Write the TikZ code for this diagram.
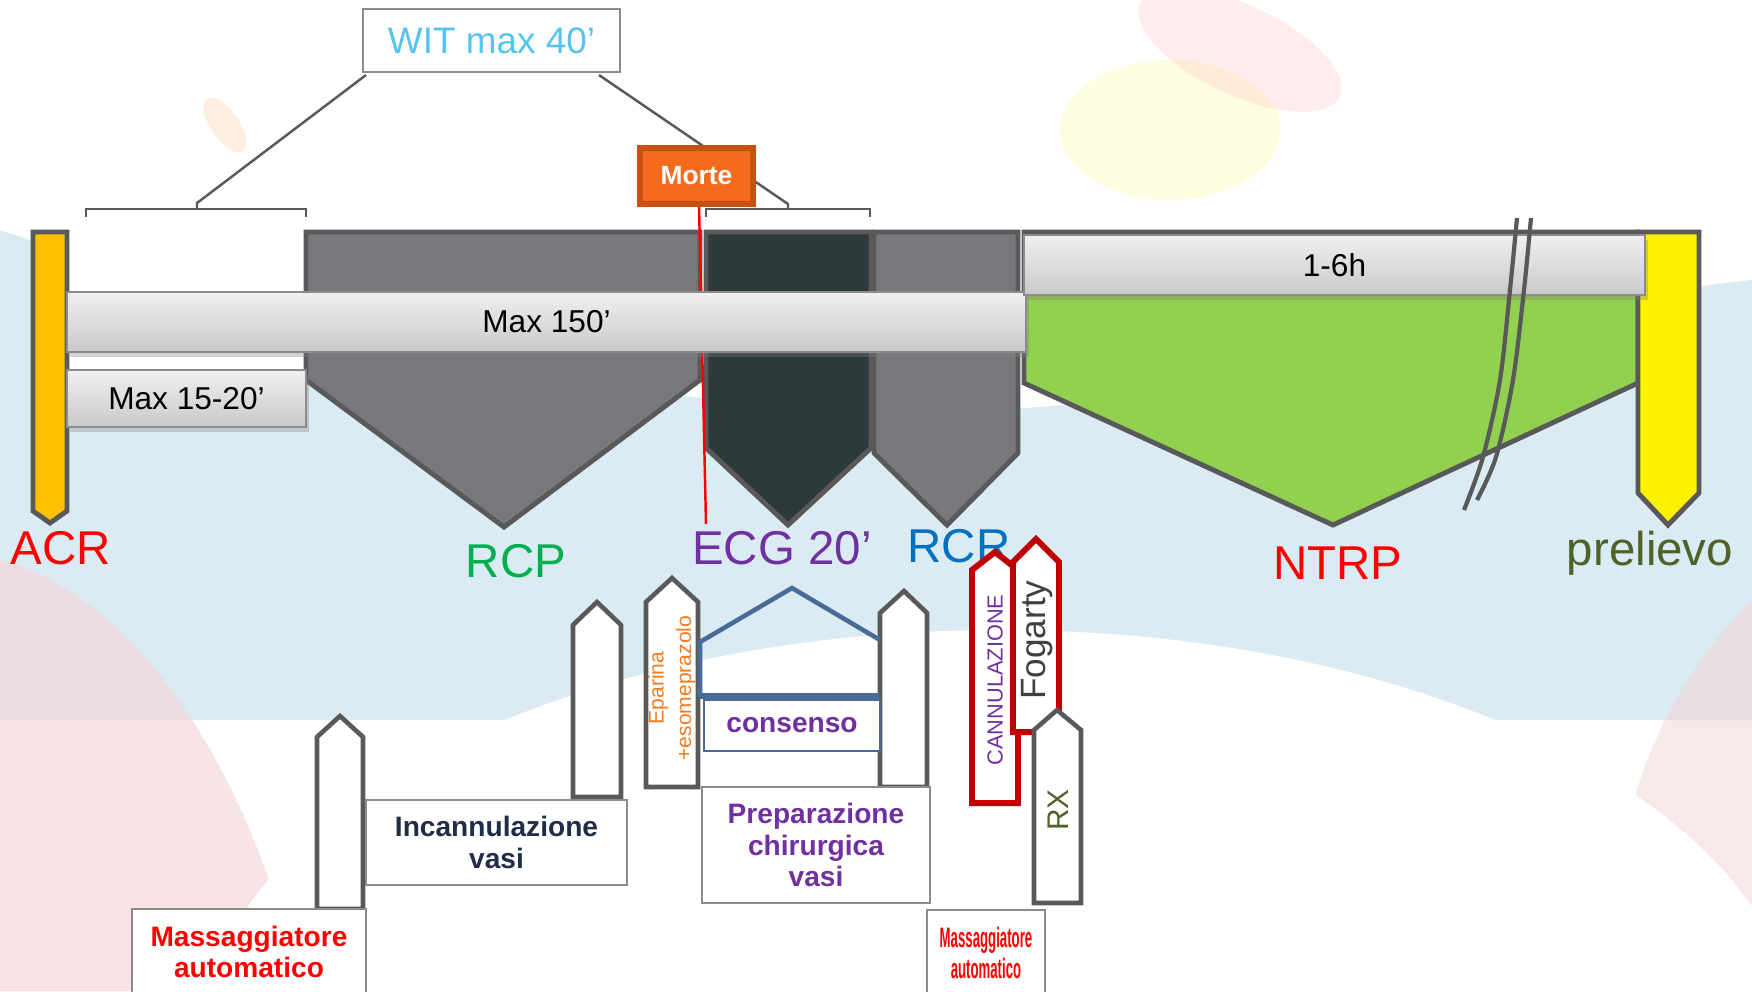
\documentclass[tikz,border=0pt]{standalone}
\usepackage{fontspec}
\setmainfont{Liberation Sans}
\usepackage{graphicx}
\usetikzlibrary{shadows}

\definecolor{edgegray}{HTML}{595959}
\definecolor{phasegray}{HTML}{78797C}
\definecolor{ecgdark}{HTML}{2E393C}
\definecolor{ntrpgreen}{HTML}{92D050}
\definecolor{acrorange}{HTML}{FFC000}
\definecolor{bargray}{HTML}{8C8C8C}
\definecolor{barlight}{HTML}{F0F0F0}
\definecolor{bardark}{HTML}{C9C9C9}
\definecolor{witblue}{HTML}{55C5F0}
\definecolor{morteorange}{HTML}{F46A1E}
\definecolor{morteedge}{HTML}{C5520F}
\definecolor{rcpgreen}{HTML}{00B050}
\definecolor{ecgpurple}{HTML}{7030A0}
\definecolor{rcrblue}{HTML}{0070C0}
\definecolor{olive}{HTML}{4F6228}
\definecolor{pencilred}{HTML}{C00000}
\definecolor{roofblue}{HTML}{4A6A98}
\definecolor{navytext}{HTML}{1F2D47}
\definecolor{drugorange}{HTML}{F47B20}
\definecolor{bgblue}{HTML}{D3E6F0}
\definecolor{bgpink}{HTML}{F4D2D5}

\begin{document}
\begin{tikzpicture}[x=0.1mm,y=-0.1mm,
  phase/.style={draw=edgegray,line width=1.4pt},
  thinline/.style={draw=edgegray,line width=0.7pt},
  timebar/.style={draw=bargray,line width=0.6pt,top color=barlight,bottom color=bardark,
    drop shadow={opacity=0.35,shadow xshift=0.3mm,shadow yshift=-0.5mm},
    font=\fontsize{9}{11}\selectfont,inner sep=0pt},
  pencil/.style={draw=edgegray,fill=white,line width=1.3pt},
  redpencil/.style={draw=pencilred,fill=white,line width=1.7pt},
  box/.style={draw=bargray,fill=white,line width=0.7pt,inner sep=0pt,align=center},
  boxtext/.style={font=\fontsize{8}{9}\selectfont\bfseries},
  biglabel/.style={font=\fontsize{13.5}{16}\selectfont,anchor=base},
  roofline/.style={draw=roofblue,line width=1.3pt}]

  \useasboundingbox (0,0) rectangle (1752,991);

  % background wash
  \fill[white] (0,0) rectangle (1752,991);
  \fill[bgblue,opacity=0.8] (0,230) .. controls (300,330) and (700,430) .. (1000,410)
    .. controls (1300,390) and (1550,300) .. (1752,280) -- (1752,720) -- (0,720) -- cycle;
  \fill[bgpink,opacity=0.6] (0,560) .. controls (150,600) and (260,800) .. (300,991) -- (0,991) -- cycle;
  \fill[bgpink,opacity=0.5] (1752,600) .. controls (1650,700) and (1600,850) .. (1620,991) -- (1752,991) -- cycle;
  \fill[white] (1000,1050) ellipse [x radius=800, y radius=420];
  \fill[yellow!35,opacity=0.35] (1170,130) ellipse [x radius=110, y radius=70];
  \fill[red!20,opacity=0.35,rotate around={-25:(1240,50)}] (1240,50) ellipse [x radius=110, y radius=45];
  \fill[orange!30,opacity=0.4,rotate around={35:(225,125)}] (225,125) ellipse [x radius=14, y radius=32];

  % WIT box and brackets
  \node[box,minimum width=25.7mm,minimum height=6.3mm,text=witblue,
    font=\fontsize{10.5}{12}\selectfont] (wit) at (491.5,40.5) {WIT max 40’};
  \coordinate (witl) at (366,75);
  \coordinate (witr) at (599,75);
  \coordinate (brl) at (197,203);
  \coordinate (brr) at (788,204);
  \draw[thinline] (witl) -- (brl) -- ++(0,6);
  \draw[thinline] (witr) -- (brr) -- ++(0,5);
  \draw[thinline] (86,217) -- (86,209) -- (306,209) -- (306,217);
  \draw[thinline] (706,217) -- (706,209) -- (870,209) -- (870,217);

  % phases
  \fill[white] (67,232) rectangle (306,372);
  \draw[phase,fill=phasegray] (306,232) -- (700,232) -- (700,380) -- (504,527) -- (306,380) -- cycle;
  \draw[phase,fill=ecgdark] (706,232) -- (871,232) -- (871,448) -- (788,525) -- (706,448) -- cycle;
  \draw[phase,fill=phasegray] (874,232) -- (1018,232) -- (1018,453) -- (947,525) -- (874,453) -- cycle;
  \draw[phase,fill=ntrpgreen] (1024,232) -- (1638,232) -- (1638,383) -- (1333,525) -- (1024,383) -- cycle;
  \draw[phase,fill=yellow] (1638,232) -- (1699,232) -- (1699,493) -- (1668,525) -- (1638,493) -- cycle;
  \draw[phase,fill=acrorange] (33,232) -- (67,232) -- (67,511) -- (50,523) -- (33,511) -- cycle;

  % Morte marker
  \coordinate (ecgmark) at (706,524);
  \draw[red,line width=0.7pt] (699,204) -- (ecgmark);

  % time bars
  \node[timebar,minimum width=23.9mm,minimum height=5.7mm] (max15) at (186.5,398.5) {Max 15-20’};
  \node[timebar,minimum width=95.9mm,minimum height=6.0mm] (max150) at (546.5,322) {Max 150’};
  \node[timebar,minimum width=62.1mm,minimum height=6.0mm] (hours) at (1334.5,265) {1-6h};

  % break marks
  \draw[edgegray,line width=1.2pt] plot[smooth] coordinates {(1517,218) (1510,290) (1500,380) (1483,457) (1464,510)};
  \draw[edgegray,line width=1.2pt] plot[smooth] coordinates {(1531,218) (1524,290) (1513,380) (1496,457) (1477,500)};

  \node[fill=morteorange,draw=morteedge,line width=1.5pt,text=white,inner sep=0pt,
    minimum width=11.3mm,minimum height=5.6mm,font=\fontsize{7.5}{9}\selectfont\bfseries]
    (morte) at (696.5,176) {Morte};

  % phase labels
  \node[biglabel,text=red] (acr) at (61,564) {ACR};
  \node[biglabel,text=rcpgreen] (rcp) at (516,577) {RCP};
  \node[biglabel,text=ecgpurple] (ecg) at (782,564) {ECG 20’};
  \node[biglabel,text=rcrblue] (rcr) at (959,562) {RCR};
  \node[biglabel,text=red] (ntrp) at (1338,579) {NTRP};
  \node[biglabel,text=olive] (prelievo) at (1650,565) {prelievo};

  % procedures
  \draw[pencil] (317,909) -- (317,737) -- (340,716) -- (363,737) -- (363,909) -- cycle;
  \draw[pencil] (573,797) -- (573,625) -- (597,602) -- (621,625) -- (621,797) -- cycle;
  \draw[pencil] (646,787) -- (646,602) -- (672,578) -- (698,602) -- (698,787) -- cycle;
  \draw[pencil] (880,787) -- (880,613) -- (904,591) -- (927,613) -- (927,787) -- cycle;
  \draw[redpencil] (972,803) -- (972,570) -- (995,552) -- (1018,570) -- (1018,803) -- cycle;
  \draw[redpencil] (1013,732) -- (1013,562) -- (1036,539) -- (1059,562) -- (1059,732) -- cycle;
  \draw[pencil] (1034,903) -- (1034,730) -- (1057,710) -- (1081,730) -- (1081,903) -- cycle;

  \node[rotate=90,align=center,text=drugorange,inner sep=0pt,
    font=\fontsize{6}{7.8}\selectfont] (eparina) at (672,688) {Eparina\\+esomeprazolo};
  \node[rotate=90,text=ecgpurple,inner sep=0pt,font=\fontsize{6.2}{7}\selectfont]
    (cannul) at (995,680) {CANNULAZIONE};
  \node[rotate=90,text=black!75,inner sep=0pt,font=\fontsize{10}{12}\selectfont]
    (fogarty) at (1037,640) {Fogarty};
  \node[rotate=90,text=olive,inner sep=0pt,font=\fontsize{8.5}{10}\selectfont]
    (rx) at (1058,810) {RX};

  % consenso
  \draw[roofline] (700,697) -- (700,642) -- (792,588) -- (880,640);
  \draw[roofline,line width=1.9pt] (700,696) -- (880,696);
  \node[box,draw=roofblue,minimum width=17.6mm,minimum height=5.1mm,boxtext,text=ecgpurple]
    (consenso) at (792,725.5) {consenso};

  % boxes
  \node[box,minimum width=26.1mm,minimum height=8.5mm,boxtext,text=navytext]
    (incann) at (496.5,842.5) {Incannulazione\\vasi};
  \node[box,minimum width=23.4mm,minimum height=8.6mm,boxtext,text=red]
    (massl) at (249,952) {Massaggiatore\\automatico};
  \node[box,minimum width=22.8mm,minimum height=11.6mm,boxtext,text=ecgpurple]
    (prep) at (816,845) {Preparazione\\chirurgica\\vasi};
  \node[box,minimum width=11.8mm,minimum height=8.6mm,boxtext,text=red]
    (massr) at (986,953) {\scalebox{0.47}[1]{Massaggiatore}\\\scalebox{0.47}[1]{automatico}};
\end{tikzpicture}
\end{document}
